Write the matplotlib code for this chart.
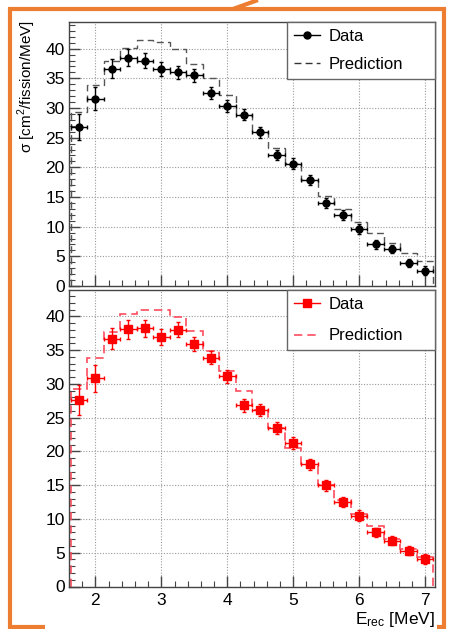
import matplotlib.pyplot as plt
import numpy as np
from matplotlib.lines import Line2D
from matplotlib.ticker import MultipleLocator

plt.rcParams['font.family'] = ['Liberation Sans', 'DejaVu Sans']

# bin centres in MeV (bin width 0.25)
energy = [1.75, 2.0, 2.25, 2.5, 2.75, 3.0, 3.25, 3.5, 3.75, 4.0, 4.25,
          4.5, 4.75, 5.0, 5.25, 5.5, 5.75, 6.0, 6.25, 6.5, 6.75, 7.0]
half_width = 0.125

# upper panel (black)
data_top = [26.8, 31.6, 36.6, 38.5, 38.0, 36.6, 36.0, 35.5, 32.5, 30.4, 28.9,
            25.9, 22.1, 20.6, 17.9, 14.0, 12.0, 9.6, 7.0, 6.2, 3.9, 2.6]
pred_top = [29.4, 33.9, 37.9, 40.1, 41.5, 41.2, 40.0, 37.5, 35.1, 32.2, 28.9,
            26.0, 23.2, 20.7, 17.9, 15.2, 13.0, 10.8, 9.0, 7.3, 5.6, 4.2]

# lower panel (red)
data_bot = [27.6, 30.8, 36.7, 38.1, 38.2, 36.9, 38.0, 35.9, 33.9, 31.1, 26.8,
            26.1, 23.5, 21.2, 18.1, 15.0, 12.5, 10.5, 8.0, 6.8, 5.3, 4.1]
pred_bot = [29.2, 33.9, 37.7, 40.3, 41.0, 40.9, 39.9, 37.9, 34.9, 31.9, 28.9,
            26.1, 23.4, 20.5, 18.0, 15.1, 12.8, 10.7, 9.0, 7.1, 5.5, 4.3]

errors = [2.2, 2.0, 1.6, 1.4, 1.3, 1.2, 1.1, 1.1, 1.0, 1.0, 0.9,
          0.9, 0.9, 0.9, 0.8, 0.8, 0.8, 0.8, 0.7, 0.7, 0.7, 0.7]

edges = np.append(np.array(energy) - half_width, energy[-1] + half_width)

W, H = 452, 629
fig = plt.figure(figsize=(W / 100, H / 100), dpi=100)


def px_axes(left, top, right, bottom):
    return fig.add_axes([left / W, 1 - bottom / H, (right - left) / W, (bottom - top) / H])


ax_top = px_axes(69, 22, 435, 286)
ax_bot = px_axes(69, 290, 435, 586.5)

dash = (0, (5, 3))


def style_axes(ax, ymax):
    ax.set_xlim(1.6, 7.15)
    ax.set_ylim(0, ymax)
    ax.xaxis.set_major_locator(MultipleLocator(1))
    ax.xaxis.set_minor_locator(MultipleLocator(0.2))
    ax.yaxis.set_major_locator(MultipleLocator(5))
    ax.yaxis.set_minor_locator(MultipleLocator(1))
    ax.tick_params(which='both', direction='in', top=False, right=False,
                   colors='#444444', labelcolor='black', labelsize=12.5)
    ax.tick_params(which='major', length=8, width=1)
    ax.tick_params(which='minor', length=4, width=0.8)
    ax.tick_params(axis='y', pad=3)
    ax.tick_params(axis='x', pad=5)
    ax.grid(True, which='major', color='#9a9a9a', linestyle=(0, (1, 1.5)), linewidth=0.8)
    ax.set_axisbelow(True)
    for sp in ax.spines.values():
        sp.set_color('#444444')
        sp.set_linewidth(1)


# upper panel
style_axes(ax_top, 44.5)
ax_top.stairs(pred_top, edges, baseline=0, color='#555555', linestyle=dash, linewidth=1)
ax_top.errorbar(energy, data_top, xerr=half_width, yerr=errors, fmt='o', color='black',
                ms=5, elinewidth=1, capsize=1.5, capthick=1)
ax_top.tick_params(axis='x', labelbottom=False)
handles_top = [Line2D([], [], color='black', marker='o', ms=5, lw=1),
               Line2D([], [], color='#333333', linestyle=dash, lw=1)]
leg = ax_top.legend(handles_top, ['Data', 'Prediction'], loc='upper right',
                    bbox_to_anchor=(0.5956, 0, 0.4044, 1), mode='expand', borderaxespad=0,
                    fontsize=12, fancybox=False, edgecolor='#666666', framealpha=1,
                    handlelength=1.6, handletextpad=0.5, labelspacing=0.8)
leg.get_frame().set_linewidth(1)

# lower panel
style_axes(ax_bot, 43.9)
ax_bot.stairs(pred_bot, edges, baseline=0, color='#ff4d5e', linestyle=dash, linewidth=1.2)
ax_bot.errorbar(energy, data_bot, xerr=half_width, yerr=errors, fmt='s', color='red',
                ms=6, elinewidth=1, capsize=1.5, capthick=1)
handles_bot = [Line2D([], [], color='red', marker='s', ms=6, lw=1),
               Line2D([], [], color='#ff4d5e', linestyle=dash, lw=1.2)]
leg = ax_bot.legend(handles_bot, ['Data', 'Prediction'], loc='upper right',
                    bbox_to_anchor=(0.5956, 0, 0.4044, 1), mode='expand', borderaxespad=0,
                    fontsize=12, fancybox=False, edgecolor='#666666', framealpha=1,
                    handlelength=1.6, handletextpad=0.5, labelspacing=1.0)
leg.get_frame().set_linewidth(1)

ax_bot.set_xlabel(r'$\mathregular{E_{rec}}$ [MeV]', fontsize=12.5, ha='right', x=1.0, labelpad=1)

fig.text(27 / W, 1 - 20 / H, r'σ [cm$^{\mathregular{2}}$/fission/MeV]', rotation=90,
         ha='center', va='top', fontsize=11)

# orange frame around the figure
orange = '#ED7D31'


def frame_line(xs, ys):
    fig.add_artist(Line2D([x / W for x in xs], [1 - y / H for y in ys],
                          color=orange, linewidth=3, solid_capstyle='butt'))


frame_line([10, 10], [8, 629])
frame_line([8, 446], [9, 9])
frame_line([444, 444], [8, 629])
frame_line([8, 45], [627, 627])
frame_line([437, 446], [627, 627])
frame_line([233, 258], [9, 0])

fig.savefig('out.png', dpi=100)
